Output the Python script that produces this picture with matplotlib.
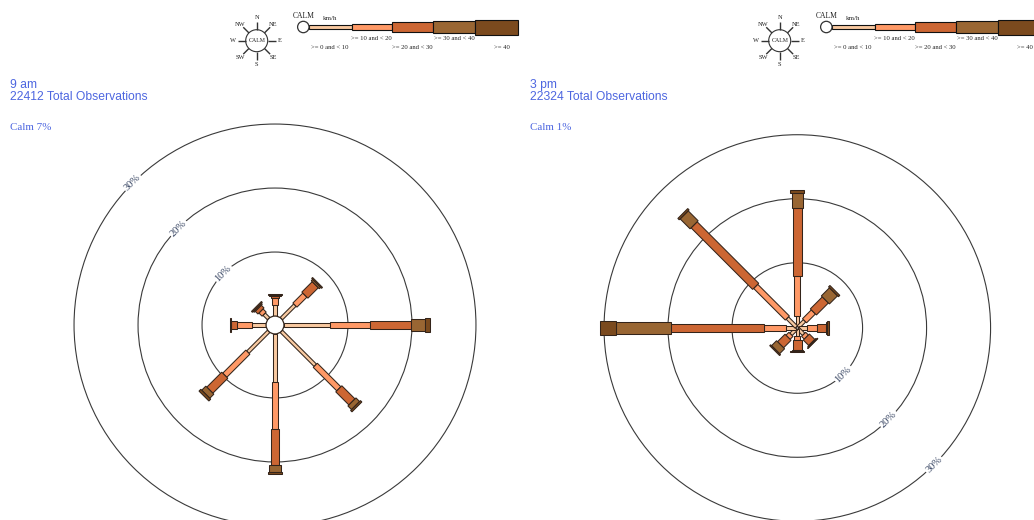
import numpy as np
import matplotlib
matplotlib.use("Agg")
import matplotlib.pyplot as plt
from matplotlib.patches import Polygon, Circle

# ---------------------------------------------------------------- data
directions = ['N', 'NE', 'E', 'SE', 'S', 'SW', 'W', 'NW']
speed_classes = ['>= 0 and < 10', '>= 10 and < 20', '>= 20 and < 30',
                 '>= 30 and < 40', '>= 40']
ring_levels = [10, 20, 30]

# 9 am : frequency (%) of each speed class, directions N .. NW
am_0_10 = [1.7, 3.0, 7.2, 7.5, 7.5, 4.6, 2.25, 1.0]
am_10_20 = [1.1, 2.2, 6.2, 5.2, 7.3, 5.1, 2.35, 0.7]
am_20_30 = [0.3, 2.3, 6.4, 2.9, 5.6, 3.3, 0.8, 0.6]
am_30_40 = [0.2, 0.3, 2.3, 0.8, 1.1, 0.9, 0.1, 0.2]
am_40_up = [0.2, 0.2, 0.7, 0.3, 0.4, 0.4, 0.1, 0.2]
am_calm = 7
am_total = 22412

# 3 pm : frequency (%) of each speed class, directions N .. NW
pm_0_10 = [1.7, 1.4, 1.3, 1.2, 1.1, 1.2, 1.5, 2.0]
pm_10_20 = [6.2, 1.95, 1.55, 0.6, 0.5, 0.65, 3.5, 7.0]
pm_20_30 = [10.7, 2.65, 1.45, 1.2, 1.6, 1.65, 14.5, 13.6]
pm_30_40 = [2.3, 1.8, 0.2, 0.15, 0.25, 1.1, 8.7, 2.2]
pm_40_up = [0.4, 0.3, 0.3, 0.1, 0.15, 0.2, 2.5, 0.3]
pm_calm = 1
pm_total = 22324

# ---------------------------------------------------------------- style
W, H = 1034, 520
PX = 6.4                     # pixels per percent
CALM_SCALE = 0.2             # calm circle radius (in % units) per % calm
class_colors = ['#F8C9A0', '#FF9966', '#CC6633', '#996633', '#7B4A1E']
class_widths = [3.4, 5.8, 8.6, 11.4, 14.0]   # pixels
EDGE = '#33241a'
TITLE_BLUE = '#4d66e0'
LABEL_BLUE = '#33415f'
SERIF = 'Liberation Serif'
SANS = 'Liberation Sans'

fig = plt.figure(figsize=(W / 100, H / 100), dpi=100)
fig.patch.set_facecolor('white')


def px_axes(x0, y0, x1, y1):
    """Axes placed by pixel box (top-left origin)."""
    return fig.add_axes([x0 / W, 1 - y1 / H, (x1 - x0) / W, (y1 - y0) / H])


def draw_rose(box, centre, classes, calm, label_angle):
    x0, y0, x1, y1 = box
    cx, cy = centre
    ax = px_axes(x0, y0, x1, y1)
    ax.set_xlim((x0 - cx) / PX, (x1 - cx) / PX)
    ax.set_ylim((cy - y1) / PX, (cy - y0) / PX)
    ax.axis('off')
    rc = calm * CALM_SCALE

    # percentage rings
    la = np.deg2rad(label_angle)
    rot = (label_angle + 90 + 90) % 180 - 90
    for lvl in ring_levels:
        r = rc + lvl
        ax.add_patch(Circle((0, 0), r, fill=False, ec='#3a3a3a', lw=0.8,
                            zorder=1))
        ax.text(r * np.cos(la), r * np.sin(la), f'{lvl}%', rotation=rot,
                ha='center', va='center', rotation_mode='anchor',
                fontsize=7.5, family=SERIF, color=LABEL_BLUE, zorder=2,
                bbox=dict(fc='white', ec='none', pad=1.0))

    # stacked speed-class arms
    for j, _ in enumerate(directions):
        th = np.deg2rad(90 - 45 * j)
        u = np.array([np.cos(th), np.sin(th)])
        v = np.array([-np.sin(th), np.cos(th)])
        r0 = rc
        for i, vals in enumerate(classes):
            r1 = r0 + vals[j]
            hw = class_widths[i] / PX / 2
            pts = [r0 * u + hw * v, r1 * u + hw * v,
                   r1 * u - hw * v, r0 * u - hw * v]
            ax.add_patch(Polygon(pts, closed=True, fc=class_colors[i],
                                 ec=EDGE, lw=0.75, zorder=3 + i * 0.01))
            r0 = r1

    ax.add_patch(Circle((0, 0), rc, fc='white', ec=EDGE, lw=0.9, zorder=5))
    return ax


def draw_key(ox):
    ax = px_axes(ox, 0, ox + 523, 72)
    ax.set_xlim(0, 523)
    ax.set_ylim(72, 0)
    ax.axis('off')

    # compass
    ccx, ccy, cr = 256.7, 40.7, 11.0
    ax.add_patch(Circle((ccx, ccy), cr, fc='white', ec='#333333', lw=0.8))
    ax.text(ccx, ccy, 'CALM', ha='center', va='center', fontsize=4.2,
            family=SERIF, color='#222222')
    for j, d in enumerate(directions):
        th = np.deg2rad(90 - 45 * j)
        c, s = np.cos(th), -np.sin(th)
        ax.plot([ccx + cr * c, ccx + 19 * c], [ccy + cr * s, ccy + 19 * s],
                color='#333333', lw=1.0, solid_capstyle='butt')
        ax.text(ccx + 23.5 * c, ccy + 23.5 * s, d, ha='center', va='center',
                fontsize=4.6, family=SERIF, color='#222222')

    # calm marker and speed-class bar
    kx, ky, kr = 303.3, 27.0, 5.7
    ax.add_patch(Circle((kx, ky), kr, fc='white', ec='#333333', lw=0.9,
                        zorder=4))
    ax.text(kx, 15.5, 'CALM', ha='center', va='center', fontsize=5.5,
            family=SERIF, color='#222222')
    ax.text(330, 18.3, 'km/h', ha='center', va='center', fontsize=5,
            family=SERIF, color='#222222')
    edges = [kx + kr, 351.7, 391.7, 433.3, 475.0, 517.7]
    for i, name in enumerate(speed_classes):
        h = class_widths[i] + (1.0 if i else 0.0)
        ax.add_patch(plt.Rectangle((edges[i], ky - h / 2),
                                   edges[i + 1] - edges[i], h,
                                   fc=class_colors[i], ec='#111111', lw=0.8,
                                   zorder=3))
        mid = (edges[i] + edges[i + 1]) / 2 if i else 330
        ty = 39.0 if i % 2 else 47.7
        ax.text(mid if i < 4 else 501.7, ty, name, ha='center', va='center',
                fontsize=4.8, family=SERIF, color='#222222')


def draw_titles(x, label, total, calm):
    fig.text(x / W, 1 - 85 / H, label, ha='left', va='center',
             fontsize=8.7, family=SANS, color=TITLE_BLUE)
    fig.text(x / W, 1 - 96.7 / H, f'{total} Total Observations', ha='left',
             va='center', fontsize=8.7, family=SANS, color=TITLE_BLUE)
    fig.text(x / W, 1 - 127.3 / H, f'Calm {calm}%', ha='left', va='center',
             fontsize=7.9, family=SERIF, color=TITLE_BLUE)


am_classes = [am_0_10, am_10_20, am_20_30, am_30_40, am_40_up]
pm_classes = [pm_0_10, pm_10_20, pm_20_30, pm_30_40, pm_40_up]

draw_rose((0, 105, 520, 520), (275.0, 325.0), am_classes, am_calm, 135)
draw_rose((520, 105, 1034, 520), (797.3, 328.0), pm_classes, pm_calm, -45)

draw_key(0)
draw_key(523)

draw_titles(10.5, '9 am', am_total, am_calm)
draw_titles(530.5, '3 pm', pm_total, pm_calm)

fig.savefig('out.png', dpi=100, facecolor='white')
